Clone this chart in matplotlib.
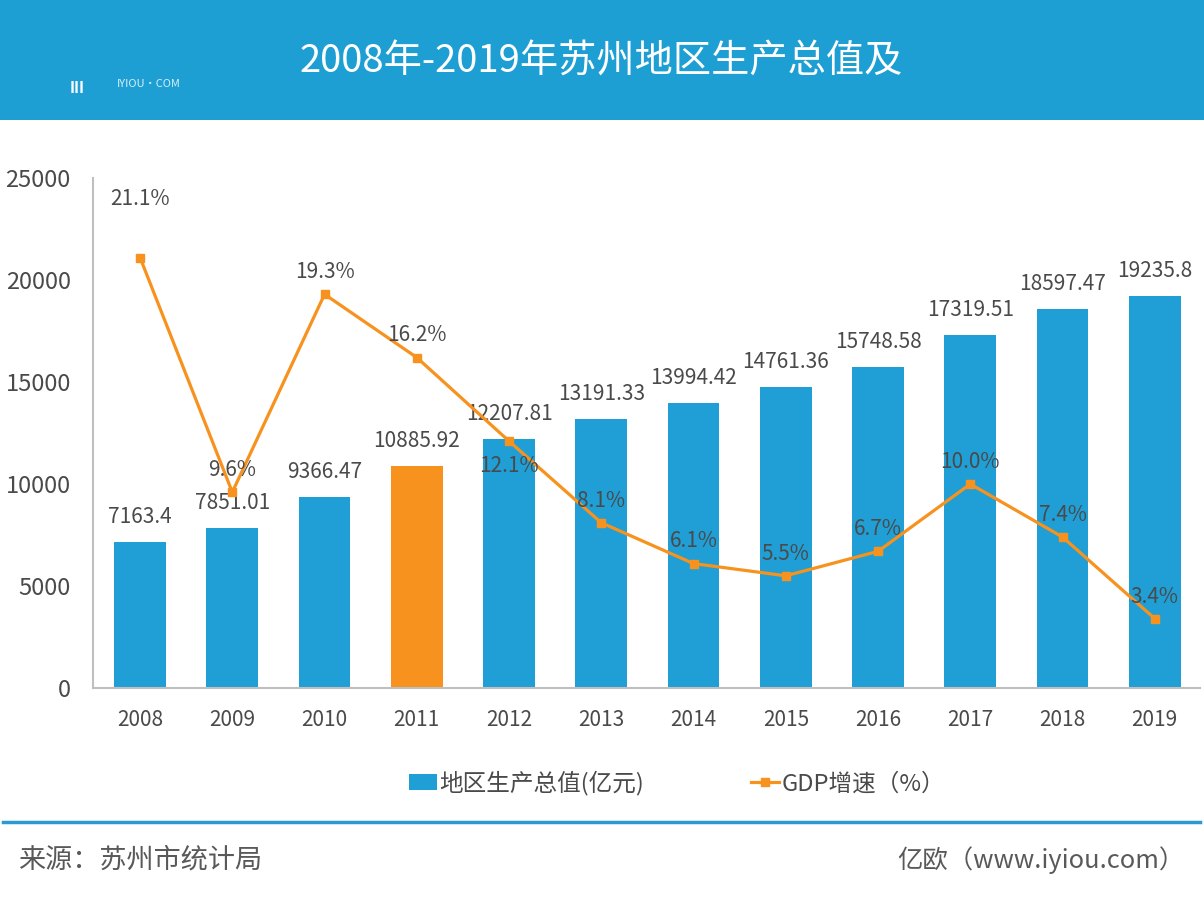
import numpy as np
import matplotlib.pyplot as plt
from matplotlib.patches import Rectangle, Patch
from matplotlib.lines import Line2D

plt.rcParams['font.family'] = ['Noto Sans CJK SC', 'DejaVu Sans']

# Data
years = ['2008', '2009', '2010', '2011', '2012', '2013',
         '2014', '2015', '2016', '2017', '2018', '2019']
gdp = [7163.4, 7851.01, 9366.47, 10885.92, 12207.81, 13191.33,
       13994.42, 14761.36, 15748.58, 17319.51, 18597.47, 19235.8]
gdp_labels = ['7163.4', '7851.01', '9366.47', '10885.92', '12207.81', '13191.33',
              '13994.42', '14761.36', '15748.58', '17319.51', '18597.47', '19235.8']
growth = [21.1, 9.6, 19.3, 16.2, 12.1, 8.1, 6.1, 5.5, 6.7, 10.0, 7.4, 3.4]
yticks = [0, 5000, 10000, 15000, 20000, 25000]

blue = '#1f9fd5'
orange = '#f7921e'
text_col = '#4a4a4a'

W, H = 1204, 900
fig = plt.figure(figsize=(W / 100, H / 100), dpi=100)

# header banner
fig.patches.append(Rectangle((0, 1 - 120 / H), 1, 120 / H, transform=fig.transFigure,
                             facecolor='#1e9fd4', edgecolor='none', zorder=0))
fig.text(300 / W, 1 - 62 / H, '2008年-2019年苏州地区生产总值及', color='white',
         fontsize=27.5, ha='left', va='center')
fig.text(70 / W, 1 - 88 / H, 'III', color='white', fontsize=11, fontweight='bold',
         ha='left', va='center')
fig.text(117 / W, 1 - 84 / H, 'IYIOU·COM', color='#d8eef8', fontsize=8,
         ha='left', va='center')

# main axes
ax = fig.add_axes([93 / W, 212 / H, 1107 / W, 510 / H])
x = np.arange(len(years))
colors = [orange if y == '2011' else blue for y in years]
ax.bar(x, gdp, width=0.56, color=colors, zorder=2)
for xi, v, lab in zip(x, gdp, gdp_labels):
    ax.annotate(lab, (xi, v), xytext=(0, 10), textcoords='offset points',
                ha='center', va='bottom', fontsize=15, color=text_col)

# growth rate on the same scale (x1000)
gvals = [g * 1000 for g in growth]
ax.plot(x, gvals, color=orange, lw=2.3, marker='s', markersize=6, zorder=3)
for xi, g, gv in zip(x, growth, gvals):
    if xi == 0:
        off, va = 34, 'bottom'
    elif xi == 4:
        off, va = -10, 'top'
    else:
        off, va = 8, 'bottom'
    ax.annotate('%.1f%%' % g, (xi, gv), xytext=(0, off), textcoords='offset points',
                ha='center', va=va, fontsize=15, color=text_col)

ax.set_xlim(-0.51, 11.49)
ax.set_ylim(0, 25000)
ax.set_yticks(yticks)
ax.set_yticklabels([str(t) for t in yticks], fontsize=17, color=text_col)
ax.set_xticks(x)
ax.set_xticklabels(years, fontsize=15, color=text_col)
ax.tick_params(length=0)
ax.tick_params(axis='y', pad=16)
ax.tick_params(axis='x', pad=15)
for s in ['top', 'right']:
    ax.spines[s].set_visible(False)
ax.spines['left'].set_color('#bfbfbf')
ax.spines['bottom'].set_color('#bfbfbf')
ax.spines['left'].set_linewidth(1.5)
ax.spines['bottom'].set_linewidth(1.5)

# legend
handles = [Patch(facecolor=blue, edgecolor='none'),
           Line2D([0], [0], color=orange, lw=2.3, marker='s', markersize=6)]
fig.legend(handles, ['地区生产总值(亿元)', 'GDP增速（%）'], loc='center',
           bbox_to_anchor=(677 / W, 1 - 783 / H), ncol=2, frameon=False,
           fontsize=17, labelcolor=text_col, columnspacing=4.5,
           handlelength=1.2, handletextpad=0.1)

# footer
fig.add_artist(Line2D([3 / W, 1200 / W], [1 - 822 / H, 1 - 822 / H],
                      transform=fig.transFigure, color='#2a9ad0', lw=2.5))
fig.text(18 / W, 1 - 860 / H, '来源：苏州市统计局', fontsize=19.5, color='#595959',
         ha='left', va='center')
fig.text(1184 / W, 1 - 860 / H, '亿欧（www.iyiou.com）', fontsize=18.3, color='#595959',
         ha='right', va='center')

fig.savefig('out.png', dpi=100)
